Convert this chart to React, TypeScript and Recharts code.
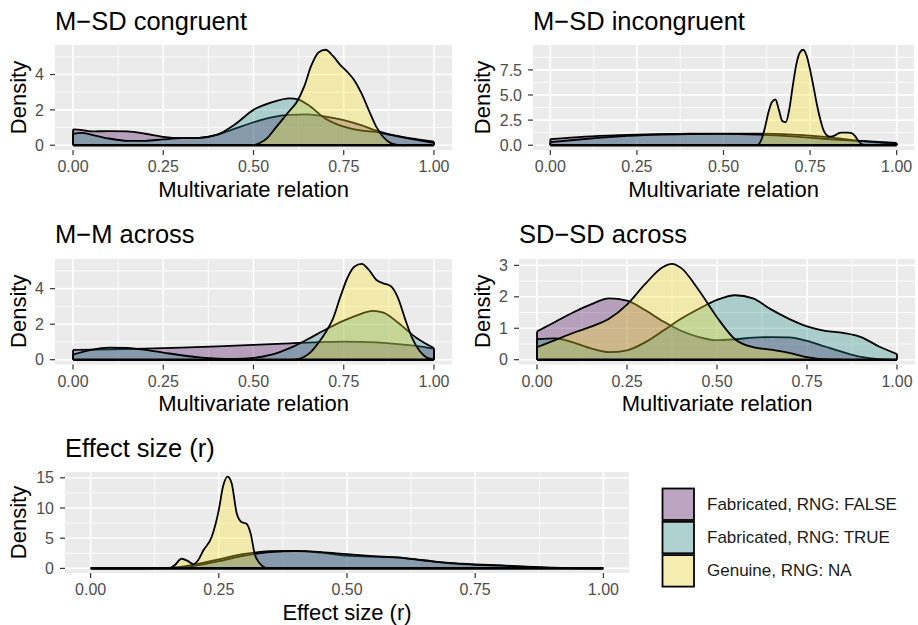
import React from 'react';
import { AreaChart, Area, XAxis, YAxis, CartesianGrid, ReferenceLine } from 'recharts';

type Pt = [number, number];

const groups = ['Fabricated, RNG: FALSE', 'Fabricated, RNG: TRUE', 'Genuine, RNG: NA'];
const groupColors = ['#440154', '#21908C', '#FDE725'];
const groupKeys = ['f', 't', 'g'];

const xTicks = [0, 0.25, 0.5, 0.75, 1];
const xMinor = [0.125, 0.375, 0.625, 0.875];

// M-SD congruent
const msdConFalse: Pt[] = [[0, 0.9], [0.025, 0.86], [0.05, 0.78], [0.1, 0.8], [0.15, 0.78], [0.2, 0.65], [0.25, 0.47], [0.3, 0.4], [0.35, 0.42], [0.4, 0.6], [0.45, 0.95], [0.5, 1.3], [0.55, 1.58], [0.6, 1.72], [0.65, 1.75], [0.7, 1.62], [0.75, 1.42], [0.8, 1.12], [0.84, 0.82], [0.88, 0.6], [0.92, 0.45], [0.96, 0.32], [1, 0.2]];
const msdConTrue: Pt[] = [[0, 0.65], [0.025, 0.7], [0.05, 0.6], [0.1, 0.38], [0.15, 0.25], [0.2, 0.25], [0.25, 0.33], [0.3, 0.4], [0.35, 0.42], [0.4, 0.6], [0.45, 1.2], [0.5, 2.0], [0.55, 2.42], [0.6, 2.65], [0.625, 2.58], [0.65, 2.3], [0.7, 1.5], [0.75, 1.05], [0.8, 0.82], [0.84, 0.75], [0.88, 0.58], [0.92, 0.42], [0.96, 0.27], [1, 0.13]];
const msdConGen: Pt[] = [[0.5, 0], [0.52, 0.15], [0.54, 0.45], [0.56, 0.95], [0.58, 1.45], [0.6, 1.95], [0.62, 2.45], [0.64, 3.3], [0.66, 4.5], [0.68, 5.25], [0.7, 5.4], [0.72, 5.05], [0.74, 4.55], [0.76, 4.15], [0.78, 3.65], [0.8, 2.9], [0.82, 1.95], [0.84, 1.05], [0.86, 0.45], [0.88, 0.12], [0.9, 0.02], [0.92, 0]];

// M-SD incongruent
const msdIncFalse: Pt[] = [[0, 0.6], [0.1, 0.85], [0.2, 1.0], [0.3, 1.1], [0.4, 1.14], [0.5, 1.16], [0.6, 1.15], [0.65, 1.12], [0.7, 1.05], [0.75, 0.95], [0.8, 0.8], [0.85, 0.6], [0.9, 0.4], [0.95, 0.25], [1, 0.15]];
const msdIncTrue: Pt[] = [[0, 0.3], [0.1, 0.62], [0.2, 0.88], [0.3, 1.03], [0.4, 1.1], [0.5, 1.12], [0.6, 1.05], [0.65, 0.98], [0.7, 0.88], [0.75, 0.75], [0.8, 0.62], [0.85, 0.5], [0.9, 0.42], [0.95, 0.32], [1, 0.22]];
const msdIncGen: Pt[] = [[0.6, 0], [0.61, 0.6], [0.62, 1.8], [0.63, 3.3], [0.64, 4.3], [0.65, 4.55], [0.66, 3.5], [0.67, 2.4], [0.68, 2.3], [0.69, 3.6], [0.7, 5.9], [0.71, 8.0], [0.72, 9.2], [0.73, 9.5], [0.74, 8.9], [0.75, 7.5], [0.76, 5.8], [0.77, 4.0], [0.78, 2.5], [0.79, 1.4], [0.8, 0.95], [0.81, 0.85], [0.82, 0.95], [0.83, 1.15], [0.84, 1.25], [0.85, 1.25], [0.86, 1.25], [0.87, 1.2], [0.88, 0.9], [0.89, 0.4], [0.9, 0.08], [0.91, 0]];

// M-M across
const mmFalse: Pt[] = [[0, 0.55], [0.1, 0.58], [0.2, 0.62], [0.3, 0.68], [0.4, 0.75], [0.5, 0.83], [0.6, 0.92], [0.7, 1.0], [0.75, 1.02], [0.8, 1.0], [0.85, 0.96], [0.9, 0.88], [0.95, 0.78], [1, 0.62]];
const mmTrue: Pt[] = [[0, 0.28], [0.05, 0.55], [0.1, 0.68], [0.15, 0.66], [0.2, 0.55], [0.25, 0.4], [0.3, 0.25], [0.35, 0.13], [0.4, 0.06], [0.45, 0.05], [0.5, 0.1], [0.55, 0.28], [0.6, 0.65], [0.65, 1.15], [0.7, 1.7], [0.75, 2.2], [0.8, 2.6], [0.83, 2.75], [0.86, 2.65], [0.9, 2.1], [0.95, 1.25], [1, 0.65]];
const mmGen: Pt[] = [[0.615, 0], [0.64, 0.15], [0.66, 0.45], [0.68, 0.95], [0.7, 1.55], [0.72, 2.3], [0.74, 3.5], [0.76, 4.6], [0.78, 5.25], [0.8, 5.4], [0.82, 5.05], [0.84, 4.5], [0.86, 4.3], [0.88, 4.15], [0.9, 3.5], [0.92, 2.3], [0.94, 1.2], [0.96, 0.5], [0.98, 0.12], [1, 0.02]];

// SD-SD across
const sdFalse: Pt[] = [[0, 0.9], [0.05, 1.2], [0.1, 1.5], [0.15, 1.76], [0.2, 1.95], [0.25, 1.88], [0.3, 1.58], [0.35, 1.22], [0.4, 0.92], [0.45, 0.72], [0.5, 0.62], [0.55, 0.65], [0.6, 0.7], [0.65, 0.72], [0.7, 0.71], [0.75, 0.6], [0.8, 0.42], [0.85, 0.24], [0.9, 0.09], [0.95, 0.02], [1, 0]];
const sdTrue: Pt[] = [[0, 0.65], [0.05, 0.68], [0.1, 0.55], [0.15, 0.36], [0.2, 0.24], [0.25, 0.3], [0.3, 0.55], [0.35, 0.92], [0.4, 1.3], [0.45, 1.62], [0.5, 1.9], [0.55, 2.05], [0.6, 1.95], [0.65, 1.6], [0.7, 1.3], [0.75, 1.06], [0.8, 0.92], [0.85, 0.85], [0.9, 0.72], [0.95, 0.42], [1, 0.18]];
const sdGen: Pt[] = [[0, 0.4], [0.05, 0.62], [0.1, 0.85], [0.15, 1.05], [0.2, 1.3], [0.25, 1.75], [0.3, 2.4], [0.35, 2.95], [0.375, 3.05], [0.4, 2.92], [0.45, 2.2], [0.5, 1.35], [0.55, 0.65], [0.6, 0.4], [0.65, 0.32], [0.7, 0.22], [0.75, 0.08], [0.8, 0.01], [0.85, 0]];

// Effect size (r)
const esFalse: Pt[] = [[0, 0], [0.1, 0], [0.15, 0.08], [0.2, 0.6], [0.25, 1.5], [0.3, 2.4], [0.35, 2.85], [0.4, 2.9], [0.45, 2.6], [0.5, 2.1], [0.55, 1.95], [0.6, 1.8], [0.65, 1.3], [0.7, 0.85], [0.75, 0.6], [0.8, 0.45], [0.85, 0.25], [0.9, 0.1], [0.95, 0.03], [1, 0]];
const esTrue: Pt[] = [[0, 0], [0.1, 0], [0.15, 0.05], [0.2, 0.4], [0.25, 1.2], [0.3, 2.1], [0.35, 2.7], [0.4, 2.85], [0.45, 2.7], [0.5, 2.35], [0.55, 2.05], [0.6, 1.82], [0.65, 1.35], [0.7, 0.9], [0.75, 0.65], [0.8, 0.5], [0.85, 0.3], [0.9, 0.12], [0.95, 0.04], [1, 0]];
const esGen: Pt[] = [[0.155, 0], [0.165, 0.6], [0.177, 1.6], [0.19, 1.2], [0.2, 0.7], [0.21, 1.4], [0.22, 3.0], [0.236, 5.2], [0.25, 9.7], [0.258, 13.5], [0.267, 15.2], [0.275, 14.1], [0.285, 9.1], [0.294, 7.7], [0.304, 7.4], [0.312, 5.8], [0.32, 2.4], [0.33, 0.8], [0.342, 0]];

const FONT = '"Liberation Sans", Arial, Helvetica, sans-serif';

const panels = [
  { title: 'M\u2212SD congruent', xTitle: 'Multivariate relation', series: [msdConFalse, msdConTrue, msdConGen], yTicks: [0, 2, 4], yMinor: [1, 3, 5], digits: 0, box: { l: 55, r: 452, t: 45, b: 150 }, densX: 18 },
  { title: 'M\u2212SD incongruent', xTitle: 'Multivariate relation', series: [msdIncFalse, msdIncTrue, msdIncGen], yTicks: [0, 2.5, 5, 7.5], yMinor: [1.25, 3.75, 6.25, 8.75], digits: 1, box: { l: 533, r: 914, t: 45, b: 150 }, densX: 482 },
  { title: 'M\u2212M across', xTitle: 'Multivariate relation', series: [mmFalse, mmTrue, mmGen], yTicks: [0, 2, 4], yMinor: [1, 3, 5], digits: 0, box: { l: 55, r: 452, t: 258.5, b: 364 }, densX: 18 },
  { title: 'SD\u2212SD across', xTitle: 'Multivariate relation', series: [sdFalse, sdTrue, sdGen], yTicks: [0, 1, 2, 3], yMinor: [0.5, 1.5, 2.5], digits: 0, box: { l: 519, r: 915, t: 258.5, b: 364 }, densX: 482 },
  { title: 'Effect size (r)', xTitle: 'Effect size (r)', series: [esFalse, esTrue, esGen], yTicks: [0, 5, 10, 15], yMinor: [2.5, 7.5, 12.5], digits: 0, box: { l: 65, r: 629, t: 472, b: 573 }, densX: 18 },
];

function buildRows(series: Pt[][]) {
  const xs = Array.from(new Set(series.flatMap((s) => s.map((p) => p[0])))).sort((a, b) => a - b);
  return xs.map((x) => {
    const row: any = { x };
    series.forEach((s, i) => {
      const hit = s.find((p) => p[0] === x);
      row[groupKeys[i]] = hit ? hit[1] : null;
    });
    return row;
  });
}

function Panel({ p }: { p: (typeof panels)[number] }) {
  const yw = 60;
  const xh = 40;
  const pad = 14; // room above the panel for the top tick label
  const { box } = p;
  const rows = buildRows(p.series);
  const yMax = Math.max(...p.series.flatMap((s) => s.map((q) => q[1])));
  const tickStyle = { fill: '#4D4D4D', fontSize: 16, fontFamily: FONT };

  // polygon side edges (ggplot outlines the whole density polygon)
  const edges: { x: number; y: number }[][] = [];
  p.series.forEach((s) => {
    const first = s[0];
    const last = s[s.length - 1];
    if (first[0] === 0 && first[1] > 0) edges.push([{ x: 0, y: 0 }, { x: 0, y: first[1] }]);
    if (last[0] === 1 && last[1] > 0) edges.push([{ x: 1, y: 0 }, { x: 1, y: last[1] }]);
  });

  return (
    <div style={{ position: 'absolute', left: box.l - yw, top: box.t - pad }}>
      <AreaChart width={box.r - box.l + yw} height={box.b - box.t + xh + pad} data={rows} margin={{ top: pad, right: 0, bottom: 0, left: 0 }}>
        <CartesianGrid fill="#EBEBEB" stroke="#FFFFFF" strokeWidth={0.8} verticalValues={xMinor} horizontalValues={p.yMinor} />
        <CartesianGrid stroke="#FFFFFF" strokeWidth={1.6} verticalValues={xTicks} horizontalValues={p.yTicks} />
        <XAxis
          type="number"
          dataKey="x"
          domain={[-0.05, 1.05]}
          allowDataOverflow
          ticks={xTicks}
          tickFormatter={(v: number) => v.toFixed(2)}
          height={xh}
          axisLine={false}
          tickLine={{ stroke: '#333333', strokeWidth: 1.2 }}
          tickSize={5}
          tickMargin={6}
          tick={tickStyle}
          interval={0}
        />
        <YAxis
          type="number"
          domain={[-0.05 * yMax, 1.05 * yMax]}
          allowDataOverflow
          ticks={p.yTicks}
          tickFormatter={(v: number) => v.toFixed(p.digits)}
          width={yw}
          axisLine={false}
          tickLine={{ stroke: '#333333', strokeWidth: 1.2 }}
          tickSize={5}
          tickMargin={6}
          tick={tickStyle}
          interval={0}
        />
        {groupKeys.map((k, i) => (
          <Area
            key={k}
            dataKey={k}
            type="monotone"
            connectNulls
            baseValue={0}
            stroke="#000000"
            strokeWidth={1.8}
            fill={groupColors[i]}
            fillOpacity={0.32}
            dot={false}
            activeDot={false}
            isAnimationActive={false}
          />
        ))}
        {edges.map((seg, i) => (
          <ReferenceLine key={`e${i}`} segment={seg} stroke="#000000" strokeWidth={1.8} />
        ))}
        <ReferenceLine segment={[{ x: 0, y: 0 }, { x: 1, y: 0 }]} stroke="#000000" strokeWidth={2.6} />
      </AreaChart>
    </div>
  );
}

export default function App() {
  return (
    <div style={{ position: 'absolute', left: 0, top: 0, width: 918, height: 625, background: '#FFFFFF', fontFamily: FONT }}>
      {panels.map((p, i) => (
        <Panel key={i} p={p} />
      ))}
      <svg width={918} height={625} style={{ position: 'absolute', left: 0, top: 0, pointerEvents: 'none' }}>
        {panels.map((p, i) => (
          <g key={i} fontFamily={FONT}>
            <text x={p.box.l} y={p.box.t - 15.5} fontSize={25.5} fill="#000000">{p.title}</text>
            <text x={(p.box.l + p.box.r) / 2} y={p.box.b + 47} fontSize={22} fill="#000000" textAnchor="middle">{p.xTitle}</text>
            <text
              x={p.densX}
              y={(p.box.t + p.box.b) / 2}
              fontSize={22}
              fill="#000000"
              textAnchor="middle"
              dominantBaseline="central"
              transform={`rotate(-90, ${p.densX}, ${(p.box.t + p.box.b) / 2})`}
            >
              Density
            </text>
          </g>
        ))}
        {groups.map((g, i) => (
          <g key={g} fontFamily={FONT}>
            <rect x={662.5} y={488.5 + i * 33.3} width={31.5} height={31.5} fill="#F2F2F2" />
            <rect x={662.5} y={488.5 + i * 33.3} width={31.5} height={31.5} fill={groupColors[i]} fillOpacity={0.32} stroke="#000000" strokeWidth={1.8} />
            <text x={707} y={504 + i * 33.3} fontSize={17} fill="#1A1A1A" dominantBaseline="central">{g}</text>
          </g>
        ))}
      </svg>
    </div>
  );
}
